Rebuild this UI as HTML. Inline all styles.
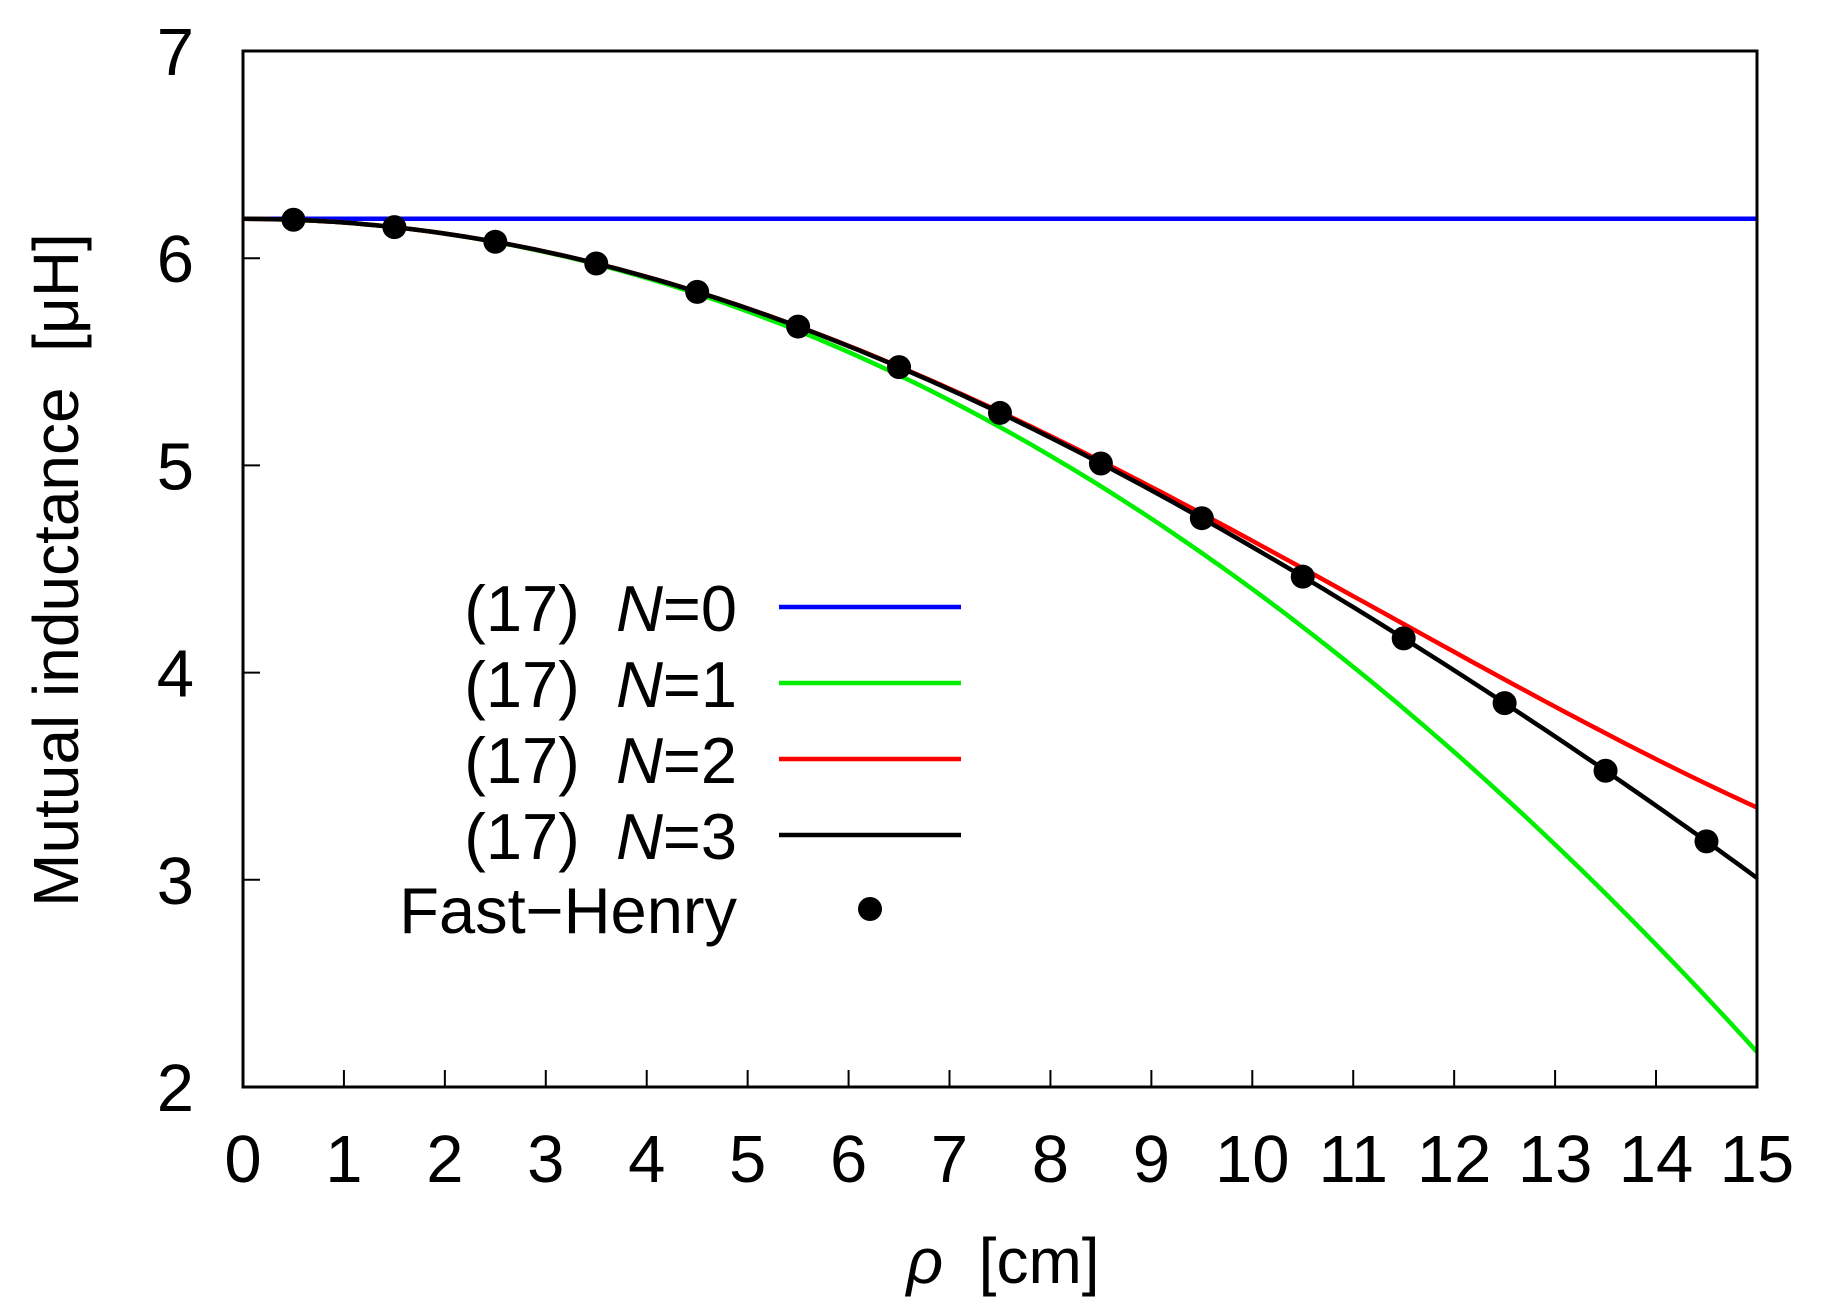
<!DOCTYPE html>
<html><head><meta charset="utf-8"><style>
html,body{margin:0;padding:0;background:#fff}
svg{display:block}
text{font-family:"Liberation Sans",sans-serif;fill:#000;white-space:pre}
</style></head><body>
<svg id="s" width="1821" height="1308" viewBox="0 0 1821 1308" xmlns="http://www.w3.org/2000/svg" xml:space="preserve">
<g id="ticks" stroke="#000" stroke-width="2"></g>
<g id="curves" fill="none" stroke-width="4.5"></g>
<g id="dots"></g>
<rect x="243" y="51" width="1514" height="1036" fill="none" stroke="#000" stroke-width="3"/>
<g id="labels" font-size="67"></g>
<text x="1003" y="1283" font-size="64" text-anchor="middle"><tspan font-style="italic">ρ</tspan>  [cm]</text>
<text transform="translate(78,570) rotate(-90)" font-size="64" text-anchor="middle">Mutual inductance  [μH]</text>
<g font-size="65" text-anchor="end">
<text x="737" y="631">(17)  <tspan font-style="italic">N</tspan>=0</text>
<text x="737" y="707">(17)  <tspan font-style="italic">N</tspan>=1</text>
<text x="737" y="783">(17)  <tspan font-style="italic">N</tspan>=2</text>
<text x="737" y="859">(17)  <tspan font-style="italic">N</tspan>=3</text>
<text x="737" y="933">Fast−Henry</text>
</g>
<line x1="779" y1="607" x2="961" y2="607" stroke="#0000ff" stroke-width="4.5"/>
<line x1="779" y1="683" x2="961" y2="683" stroke="#00ee00" stroke-width="4.5"/>
<line x1="779" y1="759" x2="961" y2="759" stroke="#ff0000" stroke-width="4.5"/>
<line x1="779" y1="835" x2="961" y2="835" stroke="#000" stroke-width="4.5"/>
<circle cx="870" cy="909" r="12" fill="#000"/>
</svg>
<script>
var NS="http://www.w3.org/2000/svg";
function X(v){return 243+v*100.93;}
function Y(v){return 51+(7-v)*207.2;}
function el(p,t,a,txt){var e=document.createElementNS(NS,t);for(var k in a)e.setAttribute(k,a[k]);if(txt!==undefined)e.textContent=txt;document.getElementById(p).appendChild(e);}
for(var i=0;i<=15;i++){el("ticks","line",{x1:X(i),y1:1087,x2:X(i),y2:1070});el("labels","text",{x:X(i),y:1182,"text-anchor":"middle"},String(i));}
for(var j=2;j<=7;j++){el("ticks","line",{x1:243,y1:Y(j),x2:260,y2:Y(j)});el("labels","text",{x:194,y:Y(j)+24,"text-anchor":"end"},String(j));}
var a=0.01787,b=2.33e-5,c=2.985e-8,m0=6.19;
var fs=[function(r){return m0;},function(r){return m0-a*r*r;},function(r){return m0-a*r*r+b*Math.pow(r,4);},function(r){return m0-a*r*r+b*Math.pow(r,4)-c*Math.pow(r,6);}];
var cols=["#0000ff","#00ee00","#ff0000","#000000"];
for(var k=0;k<4;k++){var d="";for(var r=0;r<=15.0001;r+=0.1){d+=(r==0?"M":"L")+X(r).toFixed(1)+","+Y(fs[k](r)).toFixed(1);}el("curves","path",{d:d,stroke:cols[k]});}
for(var r=0.5;r<15;r+=1){el("dots","circle",{cx:X(r),cy:Y(fs[3](r)),r:12,fill:"#000"});}
</script>
</body></html>
